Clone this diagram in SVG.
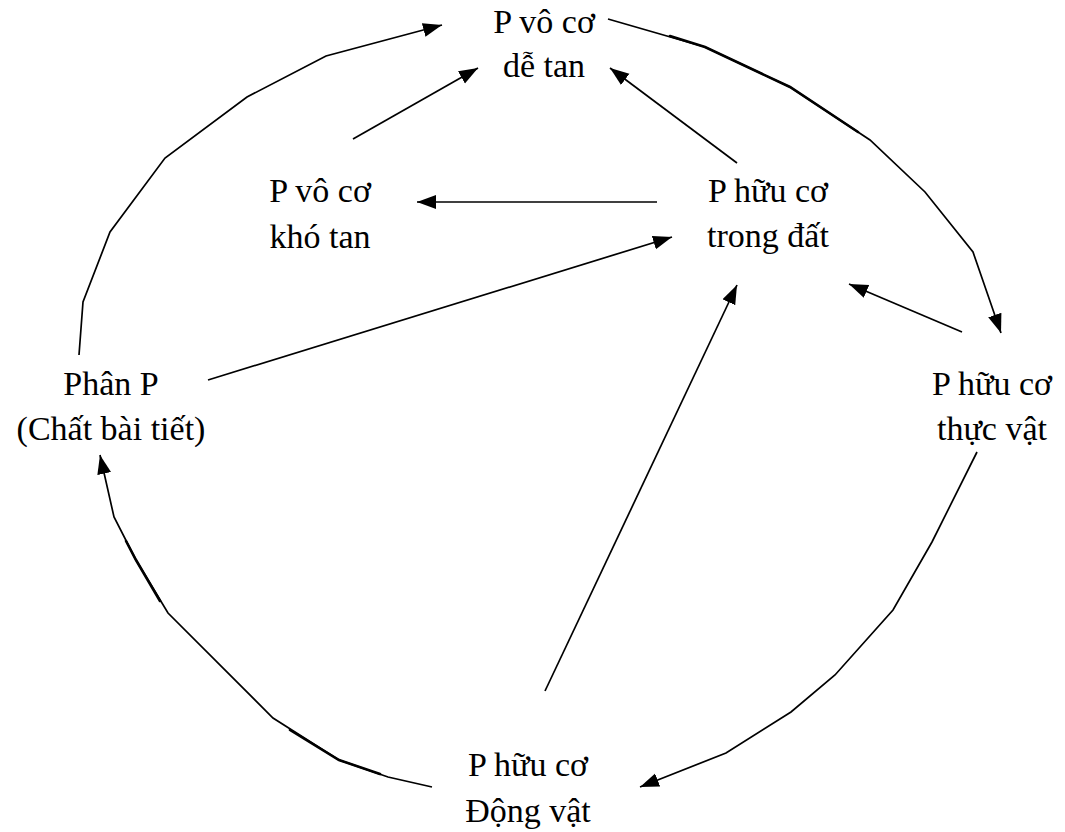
<svg xmlns="http://www.w3.org/2000/svg" width="1065" height="832" viewBox="0 0 1065 832">
<style>
.t{font-family:'Liberation Serif','Times New Roman',serif;font-size:34px;fill:#000;text-anchor:middle}
.c{fill:none;stroke:#000;stroke-width:1.7;stroke-linejoin:miter}
.a{marker-end:url(#ah)}
.thick{fill:none;stroke:#000;stroke-width:2.6;stroke-linecap:round}
</style>
<defs>
<marker id="ah" markerUnits="userSpaceOnUse" markerWidth="22" markerHeight="16" refX="19" refY="7" orient="auto">
<path d="M0,0 L19,7 L0,14 z" fill="#000"/>
</marker>
</defs>
<rect width="1065" height="832" fill="#fff"/>
<g id="connectors">
<polyline class="c a" points="79,355 83,302 110,232 165,158 247,97 326,56 442,25"/>
<polyline class="c a" points="608,19 705,47 790,87 870,140 925,192 973,252 1001,333"/>
<path class="thick" d="M670,36 L705,47 L790,87 L858,132"/>
<polyline class="c a" points="977,452 932,542 893,610 835,675 791,712 726,753 640,787"/>
<polyline class="c a" points="432,787 388,777 339,760 273,718 168,613 136,560 114,517 100,455"/>
<path class="thick" d="M126,541 L136,560 L160,601"/>
<path class="thick" d="M290,730 L339,760 L380,774"/>
<line class="c a" x1="353" y1="139" x2="478" y2="68"/>
<line class="c a" x1="737" y1="163" x2="610" y2="68"/>
<line class="c a" x1="657" y1="202" x2="417" y2="202"/>
<line class="c a" x1="208" y1="380" x2="672" y2="237"/>
<line class="c a" x1="545" y1="691" x2="737" y2="285"/>
<line class="c a" x1="962" y1="332" x2="849" y2="284"/>
</g>
<g id="node-vo-co-de-tan" class="t" font-family="Liberation Serif, serif">
<text x="544" y="33">P vô cơ</text>
<text x="544" y="77">dễ tan</text>
</g>
<g id="node-vo-co-kho-tan" class="t" font-family="Liberation Serif, serif">
<text x="320" y="202">P vô cơ</text>
<text x="320" y="248">khó tan</text>
</g>
<g id="node-huu-co-trong-dat" class="t" font-family="Liberation Serif, serif">
<text x="768" y="202">P hữu cơ</text>
<text x="768" y="247">trong đất</text>
</g>
<g id="node-phan-p" class="t" font-family="Liberation Serif, serif">
<text x="111" y="395">Phân P</text>
<text x="111" y="440">(Chất bài tiết)</text>
</g>
<g id="node-huu-co-thuc-vat" class="t" font-family="Liberation Serif, serif">
<text x="992" y="395">P hữu cơ</text>
<text x="992" y="440">thực vật</text>
</g>
<g id="node-huu-co-dong-vat" class="t" font-family="Liberation Serif, serif">
<text x="528" y="776">P hữu cơ</text>
<text x="528" y="822">Động vật</text>
</g>
</svg>
